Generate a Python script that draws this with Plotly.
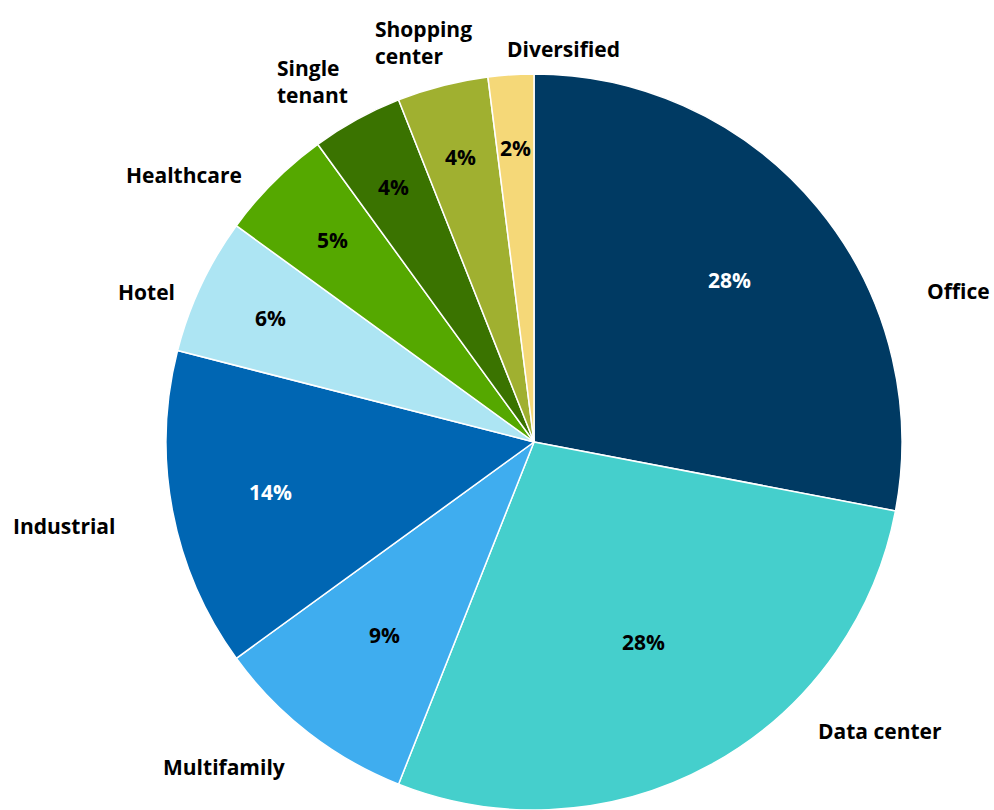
import math
import plotly.graph_objects as go

# Portfolio share by property type (percent), clockwise from 12 o'clock
categories = ["Office", "Data center", "Multifamily", "Industrial", "Hotel",
              "Healthcare", "Single tenant", "Shopping center", "Diversified"]
shares = [28, 28, 9, 14, 6, 5, 4, 4, 2]
colors = ["#003a63", "#45cfcc", "#3fadef", "#0066b3", "#ade5f3",
          "#55a800", "#3a7300", "#a0b030", "#f5d878"]
pct_text_colors = ["white", "black", "black", "white", "black",
                   "black", "black", "black", "black"]

# Display text for the outside category labels and where they sit (pixels)
outside_text = ["Office", "Data center", "Multifamily", "Industrial", "Hotel",
                "Healthcare", "Single<br>tenant", "Shopping<br>center", "Diversified"]
outside_xy = [(958, 291), (880, 731), (224, 767), (64, 526), (146, 292),
              (184, 175), (312, 82), (423, 43), (563, 49)]
# Radial position of the percent labels as a fraction of the pie radius
pct_radius = [0.69, 0.62, 0.665, 0.73, 0.79, 0.775, 0.79, 0.80, 0.80]

W, H = 994, 810
CX, CY, R = 534, 442, 368
FONT = "Open Sans"
FONT_SIZE = 21

fig = go.Figure(go.Pie(
    labels=categories,
    values=shares,
    sort=False,
    direction="clockwise",
    rotation=0,
    marker=dict(colors=colors, line=dict(color="white", width=1.5)),
    textinfo="none",
    hoverinfo="label+percent",
    domain=dict(x=[(CX - 400) / W, (CX + 400) / W], y=[0, (2 * R) / H]),
    showlegend=False,
))

total = sum(shares)
annotations = []
cum = 0
for v, tc, rf in zip(shares, pct_text_colors, pct_radius):
    mid = (cum + v / 2) / total * 2 * math.pi
    cum += v
    px = CX + rf * R * math.sin(mid)
    py = CY - rf * R * math.cos(mid)
    annotations.append(dict(
        x=px / W, y=(H - py) / H, xref="paper", yref="paper",
        text=f"<b>{v}%</b>", showarrow=False,
        font=dict(family=FONT, size=FONT_SIZE, color=tc),
        xanchor="center", yanchor="middle",
    ))

for txt, (px, py) in zip(outside_text, outside_xy):
    annotations.append(dict(
        x=px / W, y=(H - py) / H, xref="paper", yref="paper",
        text=f"<b>{txt}</b>", showarrow=False, align="left",
        font=dict(family=FONT, size=FONT_SIZE, color="black"),
        xanchor="center", yanchor="middle",
    ))

fig.update_layout(
    width=W, height=H,
    margin=dict(l=0, r=0, t=0, b=0),
    paper_bgcolor="white",
    plot_bgcolor="white",
    annotations=annotations,
)

fig.write_html("out.html")
